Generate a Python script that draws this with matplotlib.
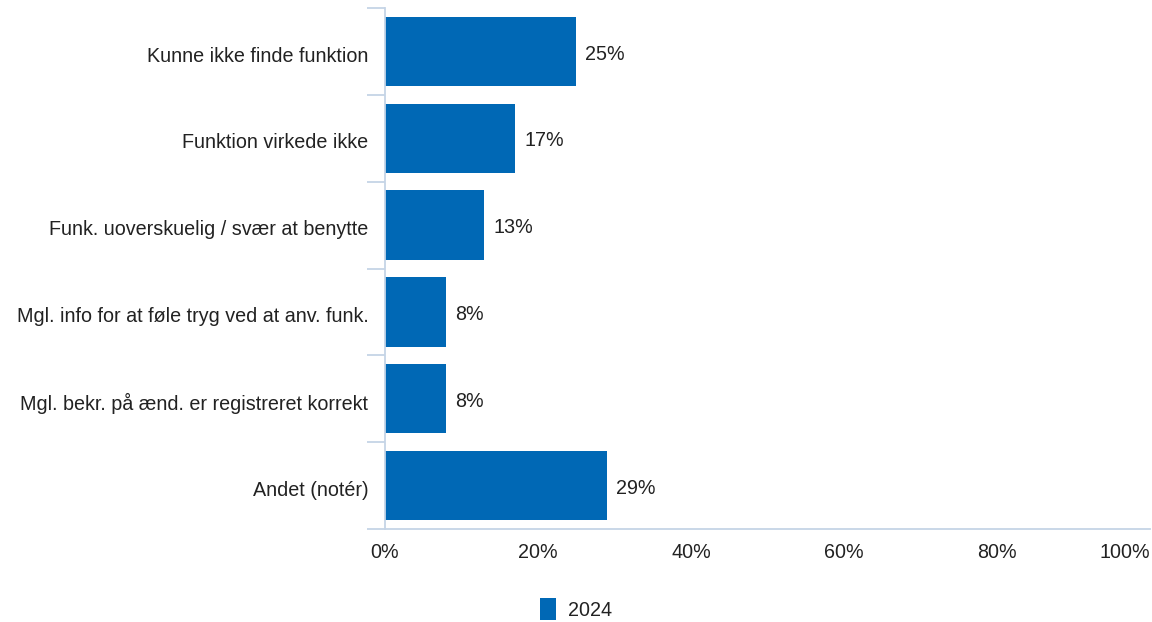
import numpy as np
import matplotlib
matplotlib.use('Agg')
import matplotlib.pyplot as plt
from matplotlib.ticker import FixedLocator

plt.rcParams['font.family'] = ['Liberation Sans', 'DejaVu Sans']

#%% data
categories = ['Kunne ikke finde funktion',
              'Funktion virkede ikke',
              'Funk. uoverskuelig / svær at benytte',
              'Mgl. info for at føle tryg ved at anv. funk.',
              'Mgl. bekr. på ænd. er registreret korrekt',
              'Andet (notér)']
values = [25, 17, 13, 8, 8, 29]
series_name = '2024'
xticks = [0, 20, 40, 60, 80, 100]
xticklabels = ['0%', '20%', '40%', '60%', '80%', '100%']

bar_col = '#0068b5'
axis_col = '#c5d4e6'
txt_col = '#222222'
fs = 14.2

#%% plot
fig = plt.figure(figsize=(11.52, 6.22), dpi=100)
ax = fig.add_axes([0.3342, 0.1495, 0.6641, 0.8376])

y = np.arange(len(categories))
bars = ax.barh(y, values, height=0.8, color=bar_col, label=series_name)
for yi, v in zip(y, values):
    ax.text(v + 1.2, yi + 0.03, f'{v}%', va='center', ha='left', fontsize=fs, color=txt_col)

ax.set_ylim(len(categories) - 0.5, -0.5)
ax.set_xlim(0, 100)
ax.set_yticks(y + 0.03)
ax.set_yticklabels(categories, fontsize=fs, color=txt_col)
ax.yaxis.set_minor_locator(FixedLocator(np.arange(-0.5, len(categories), 1.0)))
ax.tick_params(axis='y', which='major', length=0, pad=12)
ax.tick_params(axis='y', which='minor', length=13, width=1.3, color=axis_col)

ax.set_xticks(xticks)
ax.set_xticklabels(xticklabels, fontsize=fs, color=txt_col)
ax.tick_params(axis='x', length=0, pad=10)
ax.get_xticklabels()[-1].set_horizontalalignment('right')

for s in ['top', 'right']:
    ax.spines[s].set_visible(False)
for s in ['left', 'bottom']:
    ax.spines[s].set_color(axis_col)
    ax.spines[s].set_linewidth(1.3)

leg = fig.legend(handles=[bars], labels=[series_name], loc='center', bbox_to_anchor=(0.5, 0.021),
                 frameon=False, fontsize=fs, handlelength=0.8, handleheight=1.3, handletextpad=0.6)
for t in leg.get_texts():
    t.set_color(txt_col)

fig.savefig('out.png', dpi=100)
